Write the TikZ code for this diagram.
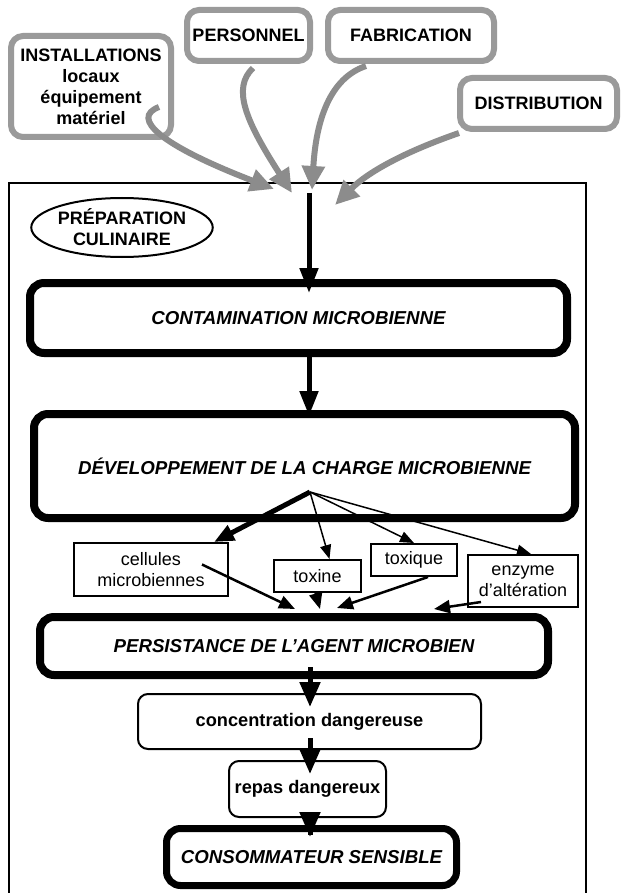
\documentclass[tikz,border=0pt]{standalone}
\usepackage{fontspec}
\setmainfont{Liberation Sans}
\usetikzlibrary{arrows.meta,calc,shapes.geometric}
\definecolor{grayline}{HTML}{9A9A9A}
\definecolor{grayarrow}{HTML}{8C8C8C}
\begin{document}
\begin{tikzpicture}[x=1pt,y=-1pt,
  every node/.style={inner sep=0pt},
  graybox/.style={draw=grayline, line width=6pt, rounded corners=12pt, fill=white, align=center, font=\fontsize{18}{21}\selectfont\bfseries},
  heavybox/.style={draw, line width=8pt, rounded corners=14pt, font=\fontsize{18.7}{21}\selectfont\bfseries\itshape},
  thinbox/.style={draw, line width=2pt, rounded corners=10pt, font=\fontsize{18.2}{21}\selectfont\bfseries},
  smallbox/.style={draw, line width=2pt, align=center, font=\fontsize{18}{21.5}\selectfont},
  grayarr/.style={draw=grayarrow, line width=6pt, -{Triangle[length=24pt,width=22pt]}},
  toparr/.style={draw, line width=5pt, -{Triangle[length=25pt,width=18pt]}},
  bigarr/.style={draw, line width=5pt, -{Triangle[length=25pt,width=20pt]}},
  fanthick/.style={draw, line width=5pt, -{Triangle[length=20pt,width=16pt]}},
  fanthin/.style={draw, line width=1.5pt, -{Triangle[length=14pt,width=11pt]}},
  inarr/.style={draw, line width=2.5pt, -{Triangle[length=16pt,width=13pt]}}
]
\useasboundingbox (0,0) rectangle (621,893);
\fill[white] (0,0) rectangle (621,893);

% outer frame (open at the bottom)
\draw[line width=2pt] (9,893) -- (9,183) -- (586,183) -- (586,893);

% top sources
\node[graybox, minimum width=160pt, minimum height=101pt] (inst) at (91,86.5)
  {INSTALLATIONS\\locaux\\équipement\\matériel};
\node[graybox, minimum width=123pt, minimum height=51pt] (pers) at (248.5,35.5) {PERSONNEL};
\node[graybox, minimum width=166pt, minimum height=51pt] (fab) at (411,35.5) {FABRICATION};
\node[graybox, minimum width=157pt, minimum height=51pt] (dist) at (538.5,103.5) {DISTRIBUTION};

% gray arrows
\coordinate (s1) at (159,107);
\coordinate (s2) at (253,68);
\coordinate (s3) at (366,66);
\coordinate (s4) at (459,133);
\coordinate (t1) at (274,189);
\coordinate (t2) at (292,193);
\coordinate (t3) at (312,190);
\coordinate (t4) at (335,205);
\draw[grayarr] (s1) .. controls (130,118) and (160,145) .. (t1);
\draw[grayarr] (s2) .. controls (232,88) and (245,120) .. (t2);
\draw[grayarr] (s3) .. controls (330,78) and (316,120) .. (t3);
\draw[grayarr] (s4) .. controls (410,150) and (370,170) .. (t4);

% ellipse
\node[ellipse, draw, line width=2pt, minimum width=178pt, minimum height=59pt, align=center,
  font=\fontsize{18}{21}\selectfont\bfseries] (prep) at (122,227.5) {PRÉPARATION\\CULINAIRE};

% main chain
\node[heavybox, minimum width=537pt, minimum height=70pt] (contam) at (298.5,318) {CONTAMINATION MICROBIENNE};
\node[heavybox, minimum width=541pt, minimum height=104pt] (dev) at (304.5,466) {DÉVELOPPEMENT DE LA CHARGE MICROBIENNE};

\node[smallbox, minimum width=154pt, minimum height=53pt] (cell) at (151,569.5) {cellules\\microbiennes};
\node[smallbox, minimum width=87pt, minimum height=32pt] (toxine) at (317.5,576) {toxine};
\node[smallbox, minimum width=86pt, minimum height=32pt] (toxique) at (414,560) {toxique};
\node[smallbox, minimum width=110pt, minimum height=52pt, font=\fontsize{18}{21}\selectfont] (enz) at (523,581) {enzyme\\d’altération};

\node[heavybox, minimum width=508pt, minimum height=58pt] (persist) at (294,646) {PERSISTANCE DE L’AGENT MICROBIEN};
\node[thinbox, minimum width=343pt, minimum height=55pt] (conc) at (309.5,721.5) {concentration dangereuse};
\node[thinbox, minimum width=157pt, minimum height=56pt] (repas) at (307.5,789) {repas dangereux};
\node[heavybox, line width=7pt, minimum width=290pt, minimum height=57pt] (cons) at (311.5,857) {CONSOMMATEUR SENSIBLE};

% black arrows
\coordinate (entry) at (309,193);
\coordinate (ax) at (310,0);
\draw[toparr, shorten >=-14pt] (entry) -- (contam.north -| entry);
\draw[toparr, shorten >=-6pt] (contam.south -| entry) -- (dev.north -| entry);

\coordinate (fan) at (310,492);
\draw[fanthick] (fan) -- ($(cell.north east)+(-15,0)$);
\draw[fanthin] (fan) -- ($(toxine.north)+(12,0)$);
\draw[fanthin] (fan) -- (toxique.north);
\draw[fanthin] (fan) -- ($(enz.north)+(8,0)$);

\draw[inarr] ($(cell.center)+(51,-5)$) -- ($(persist.north)+(1,-4)$);
\draw[inarr] ($(toxine.south)+(-2,0)$) -- ($(persist.north)+(26,-4)$);
\draw[inarr] ($(toxique.south)+(14,0)$) -- ($(persist.north)+(43,-5)$);
\draw[inarr] ($(enz.south west)+(14,-6)$) -- ($(persist.north)+(140,-4)$);

\draw[bigarr, shorten <=-12pt, shorten >=-14pt] (persist.south -| ax) -- (conc.north -| ax);
\draw[bigarr, shorten <=-12pt, shorten >=-14pt] (conc.south -| ax) -- (repas.north -| ax);
\draw[bigarr, shorten <=-17pt, shorten >=-12pt] (repas.south -| ax) -- (cons.north -| ax);
\end{tikzpicture}
\end{document}
